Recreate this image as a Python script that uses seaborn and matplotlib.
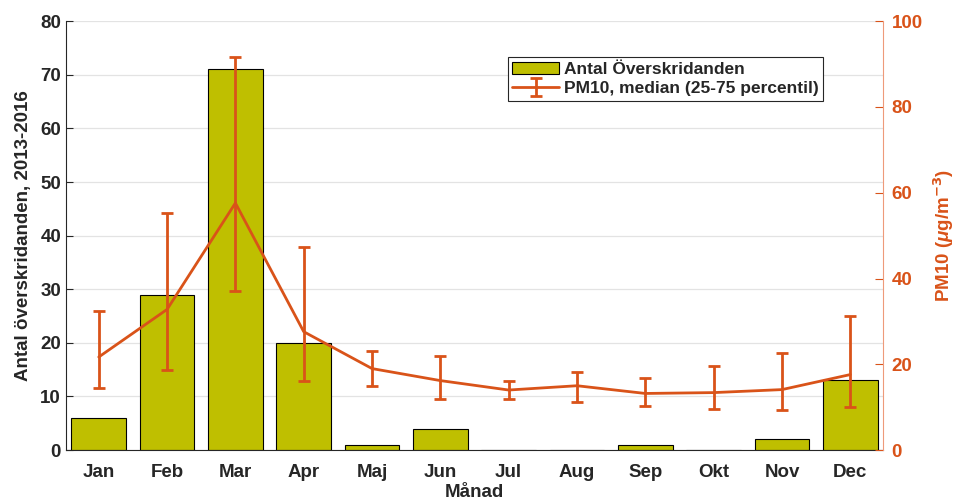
import numpy as np
import pandas as pd
import matplotlib
matplotlib.use("Agg")
import matplotlib.pyplot as plt
import seaborn as sns

months = ["Jan", "Feb", "Mar", "Apr", "Maj", "Jun", "Jul", "Aug", "Sep", "Okt", "Nov", "Dec"]
exceedances = [6, 29, 71, 20, 1, 4, 0, 0, 1, 0, 2, 13]
pm10_median = [21.7, 32.8, 57.6, 27.6, 19.0, 16.2, 14.0, 15.0, 13.2, 13.4, 14.1, 17.6]
pm10_p75 = [32.4, 55.2, 91.6, 47.3, 23.1, 22.0, 16.1, 18.2, 16.9, 19.7, 22.7, 31.2]
pm10_p25 = [14.5, 18.6, 37.1, 16.1, 14.9, 12.0, 11.8, 11.2, 10.3, 9.6, 9.4, 10.1]

sns.set_style("white")
plt.rcParams['font.family'] = ['Liberation Sans', 'DejaVu Sans']
plt.rcParams['font.weight'] = 'bold'
plt.rcParams['mathtext.fontset'] = 'custom'
plt.rcParams['mathtext.it'] = 'Liberation Sans:italic:bold'
plt.rcParams['mathtext.rm'] = 'Liberation Sans:bold'

bar_col = "#BFBF00"
line_col = "#D95319"

df = pd.DataFrame({"month": months, "count": exceedances})

fig = plt.figure(figsize=(9.59, 5.04), dpi=100)
ax = fig.add_axes([0.0688, 0.107, 0.8520, 0.851])

sns.barplot(data=df, x="month", y="count", order=months, color=bar_col,
            saturation=1, width=0.8, edgecolor="black", linewidth=0.8, ax=ax, label="Antal Överskridanden")
if ax.get_legend() is not None:
    ax.get_legend().remove()
ax.set_xlim(-0.48, 11.48)
ax.set_ylim(0, 80)
ax.set_yticks(range(0, 81, 10))
ax.yaxis.grid(True, color="#e3e3e3", linewidth=0.9)
ax.set_axisbelow(True)
ax.set_xlabel("Månad", fontsize=13.5, fontweight="bold", color="#262626", labelpad=2)
ax.set_ylabel("Antal överskridanden, 2013-2016", fontsize=13.5, fontweight="bold", color="#262626", labelpad=6)
ax.tick_params(axis="both", direction="in", labelsize=13.5, colors="#262626", length=5, width=0.8)
ax.tick_params(axis="x", pad=10, color="#888888")
for lab in ax.get_xticklabels() + ax.get_yticklabels():
    lab.set_fontweight("bold")
for s in ["top", "right"]:
    ax.spines[s].set_visible(False)
ax.spines["left"].set_color("#262626")
ax.spines["bottom"].set_color("#262626")

ax2 = ax.twinx()
x = np.arange(len(months))
med = np.array(pm10_median)
yerr = [med - np.array(pm10_p25), np.array(pm10_p75) - med]
ax2.errorbar(x, med, yerr=yerr, color=line_col, linewidth=2, elinewidth=2,
             capsize=4, capthick=2, label="PM10, median (25-75 percentil)")
ax2.set_ylim(0, 100)
ax2.set_yticks(range(0, 101, 20))
ax2.tick_params(axis="y", direction="in", labelsize=13.5, colors=line_col, length=6, width=0.8, pad=6)
for lab in ax2.get_yticklabels():
    lab.set_fontweight("bold")
for s in ["top", "left", "bottom"]:
    ax2.spines[s].set_visible(False)
ax2.spines["right"].set_color("#EE9A7A")
ax2.set_ylabel(r"PM10 ($\mu$g/m$^{\mathbf{-3}}$)", fontsize=13.5, fontweight="bold", color=line_col, labelpad=6)

h1, l1 = ax.get_legend_handles_labels()
h2, l2 = ax2.get_legend_handles_labels()
leg = ax2.legend(h1 + h2, l1 + l2, loc="upper left", bbox_to_anchor=(0.541, 0.916),
                 borderaxespad=0, fancybox=False, edgecolor="#262626", framealpha=1,
                 prop={"size": 12.5, "weight": "bold"}, handlelength=2.7, handletextpad=0.25,
                 borderpad=0.25, labelspacing=0.25)
leg.get_frame().set_linewidth(0.8)

fig.savefig("out.png", dpi=100)
